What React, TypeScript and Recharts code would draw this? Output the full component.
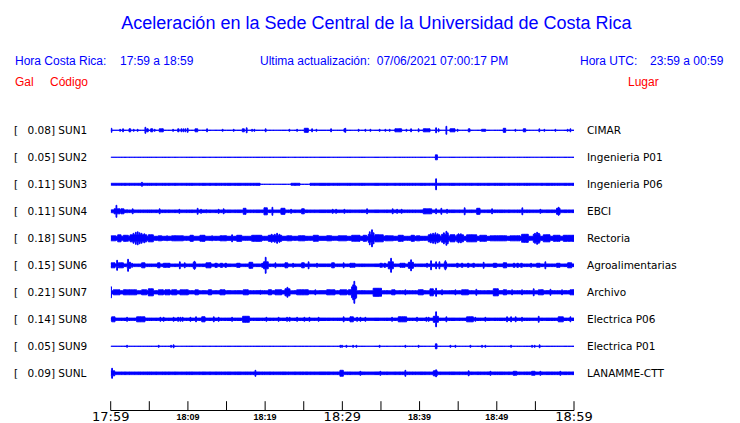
import React from 'react';
import { ComposedChart, Area, XAxis, YAxis } from 'recharts';

// stations, top to bottom
const STATIONS = ['SUN1', 'SUN2', 'SUN3', 'SUN4', 'SUN5', 'SUN6', 'SUN7', 'SUN8', 'SUN9', 'SUNL'];
const PEAK_GAL = ['0.08', '0.05', '0.11', '0.11', '0.18', '0.15', '0.21', '0.14', '0.05', '0.09'];
const PLACES = [
  'CIMAR', 'Ingenieria P01', 'Ingenieria P06', 'EBCI', 'Rectoria',
  'Agroalimentarias', 'Archivo', 'Electrica P06', 'Electrica P01', 'LANAMME-CTT',
];

// background noise level of each trace (half height)
const NOISE = [0.65, 0.5, 0.5, 1.8, 2.5, 1.8, 2.1, 1.7, 0.6, 1.8];

// bursts: [minute after 17:59, half amplitude, duration in minutes (default short)]
type Burst = [number, number, number?];

const SUN1: Burst[] = [
  [0.05, 2.5], [1.17, 1.5], [1.55, 2], [2.37, 2, 0.22], [2.93, 1.5], [3.44, 1.5], [4.44, 3.5], [4.66, 2, 0.2],
  [5.18, 2, 0.26], [5.65, 1.5], [6.29, 2, 0.52], [8.03, 1.5], [8.68, 2, 0.17], [9.1, 2], [9.36, 2], [9.62, 2],
  [9.92, 2.5], [10.92, 2, 0.35], [12.43, 2], [14.45, 1.5], [15.88, 1.5], [17.04, 2, 0.26], [17.56, 3], [18.26, 1.5],
  [18.56, 1.5], [20.02, 2], [23.09, 1.5], [24.09, 1.5], [25.07, 2.5, 0.52], [26.03, 2], [26.59, 1.5], [28.49, 2],
  [30.21, 2], [30.34, 2.5], [32.06, 1.5], [32.93, 1.5], [33.58, 1.5], [34.78, 1.5], [35.52, 1.5], [36.08, 1.5],
  [36.81, 2, 0.87], [38.24, 1.5], [38.85, 2], [39.83, 2], [40.48, 2, 0.87], [42.09, 3], [42.42, 2], [43.42, 4.5],
  [43.94, 2, 0.65], [44.88, 1.5], [46.31, 2, 0.22], [48.04, 1.5, 0.52], [50.84, 2.5, 0.31], [52.36, 1.5],
  [53.43, 2, 0.31], [55.46, 2], [56.11, 1.5], [57.54, 1.5], [59.13, 1.5], [59.48, 2],
];
const SUN2: Burst[] = [[42.05, 3, 0.25]];
const SUN3: Burst[] = [[0, 1.5, 19.35], [23.35, 1.5, 1.15], [25.82, 1.5, 34.18], [4.0, 2.5], [42.09, 6]];
const SUN4: Burst[] = [
  [0.13, 2], [0.43, 3, 0.78], [0.69, 6.5], [1.33, 3, 0.39], [2.07, 2], [2.8, 3], [6.29, 3], [8.84, 2.5],
  [11.21, 3.5], [11.65, 2.5], [12.34, 2], [13.93, 2.5], [14.58, 3], [17.17, 3.5, 0.35], [19.85, 4, 0.43],
  [20.89, 4.5], [22.05, 3.5, 0.52], [23.31, 2.5], [24.73, 3, 0.34], [28.7, 2.5], [29.14, 2.5], [30.21, 2.5],
  [33.15, 3], [36.47, 3], [37.04, 2.5], [37.63, 2.5], [40.48, 3, 1.09], [42.09, 3], [42.77, 3.5], [43.51, 2.5],
  [45.79, 4], [47.4, 3.5, 0.43], [49.34, 3], [53.26, 4], [55.59, 2.5], [57.74, 3.5, 0.45], [57.96, 4.5],
];
const SUN5: Burst[] = [
  [0, 3, 0.65], [0.91, 4, 0.43], [1.63, 3.5, 0.65], [2.51, 4, 2.16], [2.9, 5.5], [3.2, 6.5], [3.45, 7], [3.7, 6],
  [3.95, 5.5], [4.3, 5], [4.87, 4, 0.65], [6.17, 3, 0.43], [7.25, 3], [7.9, 3, 1.51], [10.27, 3.5, 0.43],
  [11.56, 3.5, 0.65], [13.08, 3], [14.15, 3, 0.87], [15.67, 4], [16.32, 3.5, 0.65], [18.26, 3.5, 1.3],
  [20.41, 3.5, 1.73], [20.8, 4.5], [21.2, 4.5], [21.5, 5.5], [21.8, 4.5], [22.8, 3, 0.65], [24.3, 3, 0.87],
  [26.24, 3.5, 0.65], [27.97, 3, 0.65], [29.47, 3, 0.65], [29.69, 3, 0.87], [31.21, 3.5, 1.07], [32.7, 3.5, 0.43],
  [33.36, 4.5, 0.65], [33.5, 7], [33.79, 9], [34.0, 6], [34.22, 4, 1.08], [35.52, 3, 1.08], [37.24, 3.5, 0.65],
  [38.9, 3.5, 0.43], [39.6, 3, 0.43], [41.13, 4, 1.51], [41.4, 5], [41.7, 5.5], [42.0, 6], [42.3, 5],
  [42.86, 4.5, 0.87], [43.1, 6], [43.42, 7.5], [43.6, 6], [43.94, 4, 0.65], [44.82, 4, 0.86], [45.0, 5], [45.3, 5],
  [46.1, 4, 1.3], [47.8, 3.5, 0.87], [49.13, 3, 2.16], [51.71, 3, 1.3], [53.22, 4.5, 0.86], [54.73, 4.5, 0.87],
  [54.9, 5.5], [55.17, 6.5], [55.4, 5.5], [56.02, 4, 0.87], [57.32, 3.5, 0.87], [58.61, 3.5, 1.39],
];
const SUN6: Burst[] = [
  [0.04, 3, 0.52], [0.78, 5.5], [0.99, 3, 0.65], [2.15, 3.5, 0.43], [2.2, 6.5], [2.72, 2.5], [4.01, 3, 0.43],
  [6.08, 3, 0.3], [6.81, 2.5, 0.86], [8.9, 4], [9.54, 3], [10.69, 3.5, 0.31], [10.8, 4.5], [12.34, 3, 0.65],
  [13.5, 2.5, 0.3], [14.2, 2.5, 0.3], [14.8, 2.5, 0.2], [16.32, 2.5, 0.43], [17.91, 3.5, 0.48], [19.56, 2.5, 0.21],
  [19.8, 4, 0.6], [20.02, 8.5], [21.28, 3], [22.57, 3, 0.35], [23.57, 2.5], [24.73, 3, 0.34], [25.58, 4],
  [26.67, 2.5], [28.62, 3, 0.34], [30.12, 3], [30.99, 2.5, 0.65], [34.87, 2.5, 0.3], [35.4, 2.5, 0.2],
  [35.95, 4, 0.65], [36.26, 7.5], [37.47, 2.5, 0.65], [38.55, 3.5, 0.65], [38.85, 6], [40.92, 2.5], [41.44, 5],
  [42.09, 4], [42.52, 4], [43.2, 3.5, 0.3], [43.29, 5], [44.8, 2.5, 0.2], [45.4, 2.5, 0.2], [46.2, 2.5, 0.2],
  [46.9, 2.5, 0.2], [48.25, 3.5], [49.55, 2.5, 0.43], [50.84, 3, 0.43], [52.14, 2.5, 0.2], [52.6, 2.5, 0.2],
  [53.1, 2.5, 0.2], [54.39, 2.5], [55.17, 2.5, 0.43], [56.24, 4], [57.75, 2.5, 0.43], [59.18, 3, 0.52],
];
const SUN7: Burst[] = [
  [0, 6], [0.34, 3, 0.86], [1.63, 3, 1.73], [4.01, 3, 0.65], [4.87, 4, 0.65], [6.17, 3, 0.65], [7.03, 3, 0.65],
  [7.9, 3, 0.65], [8.97, 3, 1.08], [10.92, 3, 0.43], [12.64, 3, 0.43], [14.15, 3, 0.65], [17.17, 3, 0.65],
  [19.34, 2.5], [20.41, 3, 0.43], [21.28, 3, 0.87], [22.57, 4, 0.65], [22.83, 5.5], [24.09, 3, 1.51], [26.45, 3],
  [27.97, 3, 1.08], [29.69, 3, 0.87], [30.77, 3, 0.43], [31.2, 6, 0.65], [31.35, 8], [31.5, 11.5], [31.65, 7],
  [33.99, 4.5, 1.08], [36.39, 3, 0.43], [38.11, 3], [39.83, 3, 0.65], [41.35, 4, 0.43], [42.09, 4.5], [42.86, 3],
  [44.59, 3], [45.45, 3, 0.87], [47.3, 3.5], [49.55, 4, 0.65], [50.84, 3, 0.43], [51.93, 3], [53.22, 3], [54.73, 4],
  [55.38, 3, 0.65], [56.9, 3.5], [58.4, 3], [59.48, 3, 0.52],
];
const SUN8: Burst[] = [
  [0.13, 3, 0.43], [2.07, 2.5], [3.36, 3, 1.08], [6.38, 2.5], [6.81, 2.5], [8.1, 2.5], [8.68, 2.5], [8.97, 2.5],
  [9.27, 2.5], [10.27, 2.5], [11.0, 3], [11.79, 3, 0.43], [13.3, 3], [13.93, 2.5], [15.67, 2.5], [17.09, 3.5, 0.86],
  [20.11, 2.5], [21.7, 2.5], [22.79, 2.5], [23.13, 2.5], [24.09, 2.5], [25.03, 2.5], [25.68, 2.5], [26.88, 2.5],
  [30.12, 3], [30.99, 3, 0.43], [31.86, 2.5], [32.29, 2.5], [32.93, 2.5], [36.39, 2.5], [37.24, 3, 1.08],
  [39.62, 2.5], [40.83, 2.5], [41.13, 2.5], [41.78, 3.5, 0.65], [42.09, 8], [43.42, 3], [46.1, 3, 0.86],
  [47.17, 2.5], [48.47, 2.5], [51.28, 3], [51.8, 3], [52.4, 3], [53.22, 2.5], [55.38, 3.5], [57.96, 3, 0.65],
  [59.48, 3],
];
const SUN9: Burst[] = [
  [2.07, 1.5], [6.17, 1.5], [7.77, 1.5], [8.1, 2], [29.69, 1.5], [29.91, 1.5], [30.47, 1.5], [31.34, 1.5],
  [31.77, 1.5], [34.78, 1.5], [38.11, 1.5], [39.83, 1.5], [42.05, 3, 0.2], [43.94, 1.5], [44.59, 1.5], [46.53, 1.5],
  [48.04, 1.5], [48.47, 1.5], [51.8, 1.5], [54.52, 1.5], [54.86, 1.5], [55.5, 2],
];
const SUNL: Burst[] = [
  [0, 3, 0.52], [0.13, 5.5], [18.69, 3.5], [29.69, 3.5, 0.43], [32.28, 2.5], [34.87, 2.5], [38.11, 3.5],
  [41.78, 3, 0.5], [42.09, 4], [46.31, 3], [49.13, 2.5], [52.14, 2.5, 0.43], [54.52, 2.5, 0.43], [55.59, 2.5],
  [58.18, 2.5],
];
const BURSTS = [SUN1, SUN2, SUN3, SUN4, SUN5, SUN6, SUN7, SUN8, SUN9, SUNL];

const TICK_MINUTES = [0, 5, 10, 15, 20, 25, 30, 35, 40, 45, 50, 55, 60];
const TICK_LABELS = ['17:59', '', '18:09', '', '18:19', '', '18:29', '', '18:39', '', '18:49', '', '18:59'];
const MAJOR_LABELS = ['17:59', '18:29', '18:59'];

// layout
const W = 740;
const H = 423;
const PLOT_LEFT = 110.7;
const PLOT_RIGHT = 574;
const PLOT_TOP = 100;
const AXIS_Y = 410.5;
const FIRST_TRACE_Y = 130.3;
const TRACE_GAP = 27;
const SHORT = 0.1;
const STROKE = 1;
const BLUE = '#0000ff';

const envelope = (i: number, t: number) => {
  let a = NOISE[i];
  for (const [t0, amp, d = SHORT] of BURSTS[i]) {
    if (t >= t0 && t < t0 + d) a = Math.max(a, amp);
  }
  return Math.max(0, a - STROKE / 2);
};

const edges = new Set<number>([0, 60]);
BURSTS.forEach((list) =>
  list.forEach(([t0, , d = SHORT]) => {
    edges.add(t0);
    if (t0 + d < 60) edges.add(t0 + d);
  }),
);
const times = Array.from(edges).sort((a, b) => a - b);

const data = times.map((t) => {
  const row: Record<string, any> = { t };
  STATIONS.forEach((s, i) => {
    const h = envelope(i, t);
    const c = i * TRACE_GAP;
    row[s] = [c - h, c + h];
  });
  return row;
});

const TimeTick = (props: any) => {
  const { x, y, payload } = props;
  const label = TICK_LABELS[TICK_MINUTES.indexOf(payload.value)];
  const major = MAJOR_LABELS.includes(label);
  return (
    <g>
      <line x1={x} x2={x} y1={y - 9.3} y2={y} stroke="#000" strokeWidth={1} />
      {label ? (
        <text
          x={x}
          y={y + (major ? 10.5 : 9.5)}
          textAnchor="middle"
          fontFamily={major ? 'DejaVu Sans' : 'Liberation Sans'}
          fontWeight={major ? 400 : 700}
          fontSize={major ? 13 : 9}
          fill="#000"
        >
          {label}
        </text>
      ) : null}
    </g>
  );
};

const App: React.FC = () => {
  return (
    <div style={{ position: 'absolute', left: 0, top: 0, width: W, height: H, background: '#fff' }}>
      <ComposedChart
        width={W}
        height={H}
        data={data}
        margin={{ top: PLOT_TOP, right: W - PLOT_RIGHT, bottom: 0, left: PLOT_LEFT }}
      >
        <XAxis
          dataKey="t"
          type="number"
          domain={[0, 60]}
          ticks={TICK_MINUTES}
          interval={0}
          tickLine={false}
          tickSize={0}
          tickMargin={0}
          height={H - AXIS_Y}
          axisLine={{ stroke: '#000' }}
          tick={<TimeTick />}
          allowDataOverflow
        />
        <YAxis
          hide
          type="number"
          reversed
          domain={[PLOT_TOP - FIRST_TRACE_Y, AXIS_Y - FIRST_TRACE_Y]}
          allowDataOverflow
        />
        {STATIONS.map((s) => (
          <Area
            key={s}
            dataKey={s}
            type="stepAfter"
            stroke={BLUE}
            strokeWidth={STROKE}
            fill={BLUE}
            fillOpacity={1}
            dot={false}
            activeDot={false}
            isAnimationActive={false}
          />
        ))}
      </ComposedChart>
      <svg
        width={W}
        height={H}
        style={{ position: 'absolute', left: 0, top: 0, pointerEvents: 'none' }}
      >
        <g fontFamily="Liberation Sans" fill={BLUE}>
          <text x={376.5} y={28.5} fontSize={18} textAnchor="middle">
            Aceleración en la Sede Central de la Universidad de Costa Rica
          </text>
          <text x={15} y={64.5} fontSize={12}>Hora Costa Rica:</text>
          <text x={120} y={64.5} fontSize={12}>17:59 a 18:59</text>
          <text x={260} y={64.5} fontSize={12} style={{ whiteSpace: 'pre' }}>
            Ultima actualización:  07/06/2021 07:00:17 PM
          </text>
          <text x={580} y={64.5} fontSize={12}>Hora UTC:</text>
          <text x={650} y={64.5} fontSize={12}>23:59 a 00:59</text>
        </g>
        <g fontFamily="Liberation Sans" fill="#ff0000" fontSize={12}>
          <text x={15} y={85.5}>Gal</text>
          <text x={50} y={85.5}>Código</text>
          <text x={628} y={85.5}>Lugar</text>
        </g>
        <g fontFamily="DejaVu Sans" fontSize={10.5} fill="#000">
          {STATIONS.map((s, i) => {
            const y = FIRST_TRACE_Y + i * TRACE_GAP + 3.9;
            return (
              <g key={s}>
                <text x={14} y={y}>[</text>
                <text x={27.5} y={y} style={{ whiteSpace: 'pre' }}>{`${PEAK_GAL[i]}] ${s}`}</text>
                <text x={587} y={y}>{PLACES[i]}</text>
              </g>
            );
          })}
        </g>
      </svg>
    </div>
  );
};

export default App;
